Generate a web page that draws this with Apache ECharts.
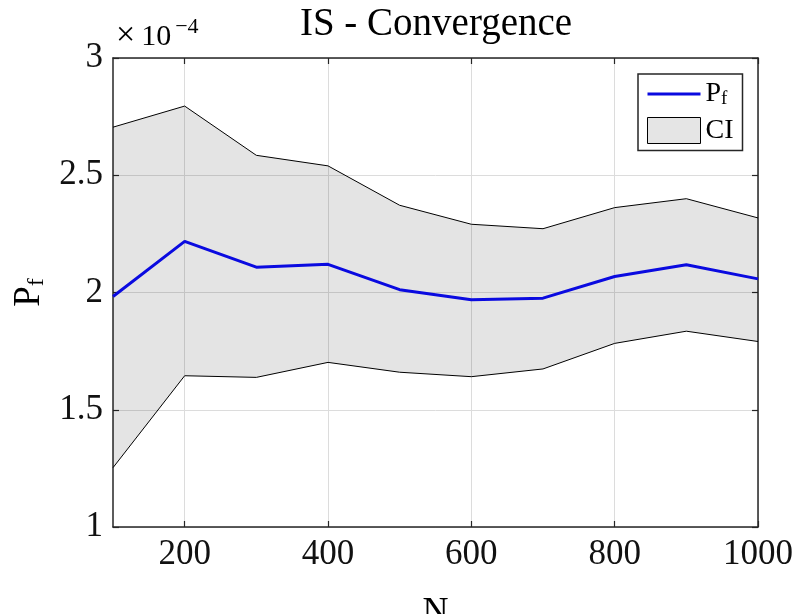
<!DOCTYPE html>
<html>
<head>
<meta charset="utf-8">
<script src="https://cdn.jsdelivr.net/npm/echarts@6/dist/echarts.min.js"></script>
<style>
html,body{margin:0;padding:0;background:#fff;}
#chart{width:794px;height:614px;}
</style>
</head>
<body>
<div id="chart"></div>
<script>
// Data (P_f values in units of 1e-4)
const nValues = [100, 200, 300, 400, 500, 600, 700, 800, 900, 1000];
const meanPf  = [1.983, 2.218, 2.108, 2.120, 2.012, 1.969, 1.976, 2.068, 2.118, 2.058];
const ciUpper = [2.705, 2.795, 2.585, 2.540, 2.372, 2.291, 2.272, 2.362, 2.400, 2.318];
const ciLower = [1.253, 1.645, 1.638, 1.702, 1.660, 1.641, 1.674, 1.783, 1.835, 1.791];
const xTicks = [200, 400, 600, 800, 1000];
const yTicks = [1, 1.5, 2, 2.5, 3];

const FONT = '"Liberation Serif", "DejaVu Serif", serif';
const AX = '#262626';

const pair = (arr) => nValues.map((n, i) => [n, arr[i]]);

const chart = echarts.init(document.getElementById('chart'), null, {renderer: 'canvas'});

const axisLineCommon = {show: true, onZero: false, lineStyle: {color: AX, width: 1.5}};
const tickStyle = {color: AX, width: 1.2};

chart.setOption({
  animation: false,
  backgroundColor: '#fff',
  grid: {left: 113, right: 36, top: 58, bottom: 87, outerBoundsMode: 'none', containLabel: false},
  xAxis: [
    {
      type: 'value', min: 100, max: 1000, position: 'bottom',
      axisLine: axisLineCommon,
      name: 'N', nameLocation: 'middle', nameGap: 68,
      nameTextStyle: {fontFamily: FONT, fontSize: 36, color: '#000'},
      axisTick: {show: true, inside: true, length: 6, customValues: xTicks, lineStyle: tickStyle},
      axisLabel: {customValues: xTicks, fontFamily: FONT, fontSize: 35, color: '#111', margin: 10,
        formatter: (v) => String(v)},
      splitLine: {show: true, lineStyle: {color: '#dcdcdc', width: 1}}
    },
    {
      type: 'value', min: 100, max: 1000, position: 'top',
      axisLine: axisLineCommon,
      axisTick: {show: true, inside: true, length: 6, customValues: xTicks, lineStyle: tickStyle},
      axisLabel: {show: false},
      splitLine: {show: false}
    }
  ],
  yAxis: [
    {
      type: 'value', min: 1, max: 3, interval: 0.5, position: 'left',
      axisLine: axisLineCommon,
      axisTick: {show: true, inside: true, length: 6, lineStyle: tickStyle},
      name: '{a|P}{b|f}', nameLocation: 'middle', nameGap: 64, nameRotate: 90,
      nameTextStyle: {fontFamily: FONT, color: '#000',
        rich: {a: {fontFamily: FONT, fontSize: 37, color: '#000'},
               b: {fontFamily: FONT, fontSize: 24, color: '#000', padding: [14, 0, 0, 0]}}},
      axisLabel: {fontFamily: FONT, fontSize: 35, color: '#111', margin: 10,
        formatter: (v) => String(v)},
      splitLine: {show: true, lineStyle: {color: '#dcdcdc', width: 1}}
    },
    {
      type: 'value', min: 1, max: 3, interval: 0.5, position: 'right',
      axisLine: axisLineCommon,
      axisTick: {show: true, inside: true, length: 6, lineStyle: tickStyle},
      axisLabel: {show: false},
      splitLine: {show: false}
    }
  ],
  legend: {
    left: 638, top: 74, orient: 'vertical',
    padding: [6, 9, 6, 8], itemGap: 8,
    itemWidth: 53, itemHeight: 26,
    backgroundColor: '#fff', borderColor: AX, borderWidth: 1.5, borderRadius: 0,
    selectedMode: false,
    textStyle: {fontFamily: FONT, fontSize: 28, color: '#000',
      rich: {a: {fontFamily: FONT, fontSize: 28, color: '#000'},
             b: {fontFamily: FONT, fontSize: 19, color: '#000', padding: [10, 0, 0, 0]}}},
    formatter: (name) => name === 'Pf' ? '{a|P}{b|f}' : name,
    data: [
      {name: 'Pf', itemStyle: {opacity: 0}, lineStyle: {color: '#0a0ae0', width: 3}},
      {name: 'CI', icon: 'rect', itemStyle: {color: '#e5e5e5', borderColor: '#000', borderWidth: 1}}
    ]
  },
  graphic: [
    {type: 'text', x: 436, y: 5, z: 100,
      style: {text: 'IS - Convergence', font: '39px ' + FONT, fill: '#000', textAlign: 'center', textVerticalAlign: 'top'}},
    {type: 'text', x: 116, y: 13, z: 100,
      style: {text: '{c|×}{a|\u200910}{b|\u22124}', textVerticalAlign: 'top',
        rich: {c: {fontFamily: FONT, fontSize: 34, color: '#333', padding: [6, 0, 0, 0]},
               a: {fontFamily: FONT, fontSize: 30, color: '#333', padding: [8, 0, 0, 0]},
               b: {fontFamily: FONT, fontSize: 22, color: '#333', padding: [0, 0, 12, 4]}}}}
  ],
  series: [
    {name: 'CI', type: 'custom', data: [[100, 1]], silent: true, z: 1,
      clip: true,
      itemStyle: {color: '#e5e5e5'},
      renderItem: (params, api) => {
        if (params.dataIndex !== 0) return null;
        const upperPts = nValues.map((n, i) => api.coord([n, ciUpper[i]]));
        const lowerPts = nValues.map((n, i) => api.coord([n, ciLower[i]])).reverse();
        return {type: 'polygon', shape: {points: upperPts.concat(lowerPts)},
          style: {fill: 'rgba(0,0,0,0.105)', stroke: null}};
      }
    },
    {name: 'ciUpperEdge', type: 'line', data: pair(ciUpper), symbol: 'none',
      lineStyle: {color: '#000', width: 1}, silent: true, z: 2},
    {name: 'ciLowerEdge', type: 'line', data: pair(ciLower), symbol: 'none',
      lineStyle: {color: '#000', width: 1}, silent: true, z: 2},
    {name: 'Pf', type: 'line', data: pair(meanPf), symbol: 'none', showSymbol: false,
      itemStyle: {color: '#0a0ae0'},
      lineStyle: {color: '#0a0ae0', width: 3}, z: 3}
  ]
});
</script>
</body>
</html>
